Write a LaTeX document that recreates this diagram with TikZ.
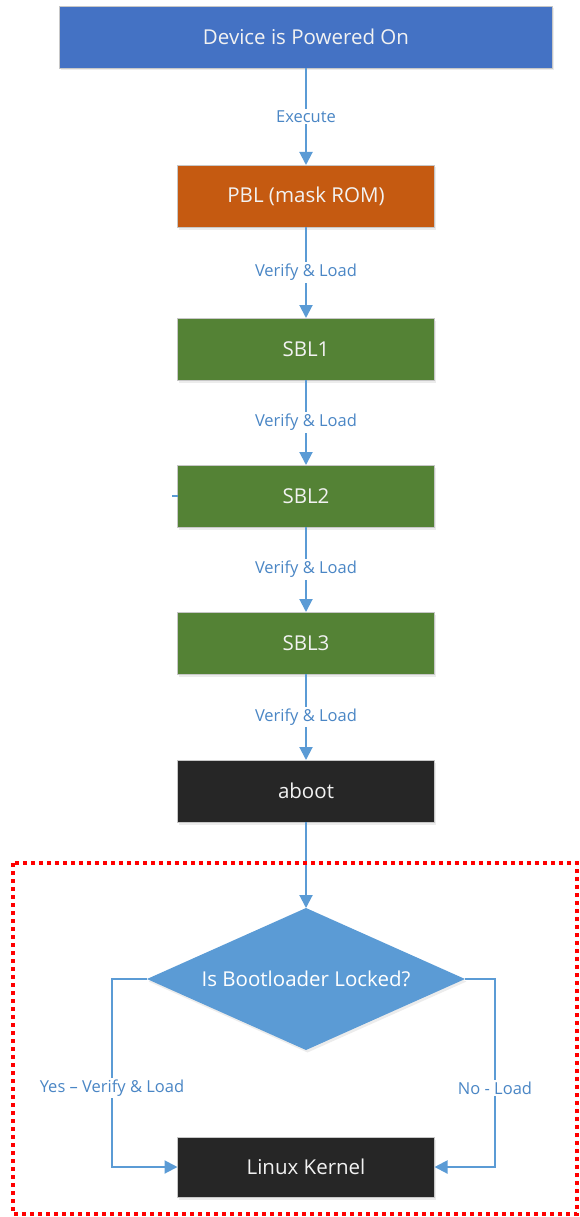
\documentclass[tikz,border=0pt]{standalone}
\usepackage{fontspec}
\setmainfont{Open Sans}
\usetikzlibrary{positioning, shapes.geometric, arrows.meta, shadows}

\definecolor{pwrblue}{HTML}{4472C4}
\definecolor{pblorange}{HTML}{C55A11}
\definecolor{sblgreen}{HTML}{548235}
\definecolor{bootblack}{HTML}{262626}
\definecolor{flowblue}{HTML}{5B9BD5}
\definecolor{lblblue}{HTML}{4A86C5}

\begin{document}
\begin{tikzpicture}[
        x=1pt, y=-1pt,
        node distance=85pt,
        box/.style={rectangle, draw=black!22, line width=0.8pt, outer sep=0pt, minimum width=257pt, minimum height=62pt, align=center, text=white!95!black, font=\fontsize{20.5}{24}\selectfont, drop shadow={opacity=0.15, shadow xshift=1.5pt, shadow yshift=-2.5pt}},
        arrow/.style={-{Triangle[length=13pt, width=13pt]}, draw=flowblue, line width=2pt},
        lbl/.style={fill=white, text=lblblue, font=\fontsize{16.5}{19}\selectfont, inner sep=2pt}
    ]
    \useasboundingbox (0,0) rectangle (580,1217);

    % boot chain
    \node[box, fill=pwrblue, minimum width=493pt] (dev) at (306,37) {Device is Powered On};
    \node[box, fill=pblorange, below=97pt of dev] (pbl) {PBL (mask ROM)};
    \node[box, fill=sblgreen, below=91pt of pbl] (sbl1) {SBL1};
    \node[box, fill=sblgreen, below=85pt of sbl1] (sbl2) {SBL2};
    \node[box, fill=sblgreen, below=85pt of sbl2] (sbl3) {SBL3};
    \node[box, fill=bootblack, below=86pt of sbl3] (aboot) {aboot};

    % decision
    \node[diamond, aspect=2.24, fill=flowblue, minimum width=318pt, minimum height=142pt, inner sep=0pt, outer sep=0pt, text=white, font=\fontsize{20.5}{24}\selectfont, drop shadow={opacity=0.15, shadow xshift=1.5pt, shadow yshift=-2.5pt}, below=86pt of aboot] (dec) {Is Bootloader Locked?};
    \node[box, fill=bootblack, minimum height=60pt, below=87pt of dec] (kernel) {Linux Kernel};

    % arrows
    \draw[arrow] (dev.south) -- (pbl.north) node[lbl, midway] {Execute};
    \draw[arrow] (pbl.south) -- (sbl1.north) node[lbl, midway] {Verify \& Load};
    \draw[arrow] (sbl1.south) -- (sbl2.north) node[lbl, midway] {Verify \& Load};
    \draw[arrow] (sbl2.south) -- (sbl3.north) node[lbl, midway] {Verify \& Load};
    \draw[arrow] (sbl3.south) -- (aboot.north) node[lbl, midway] {Verify \& Load};
    \draw[arrow] (aboot.south) -- (dec.north);
    \draw[draw=flowblue, line width=2pt] (sbl2.west) -- ++(-6,0);
    \draw[arrow] (dec.west) -- ++(-35,0) |- node[lbl, pos=0.29] {Yes – Verify \& Load} (kernel.west);
    \draw[arrow] (dec.east) -- ++(30,0) |- node[lbl, pos=0.29] {No - Load} (kernel.east);

    % unlock region
    \draw[red, line width=4pt, dash pattern=on 4pt off 4pt] (13,863) rectangle (577,1214);

\end{tikzpicture}
\end{document}
